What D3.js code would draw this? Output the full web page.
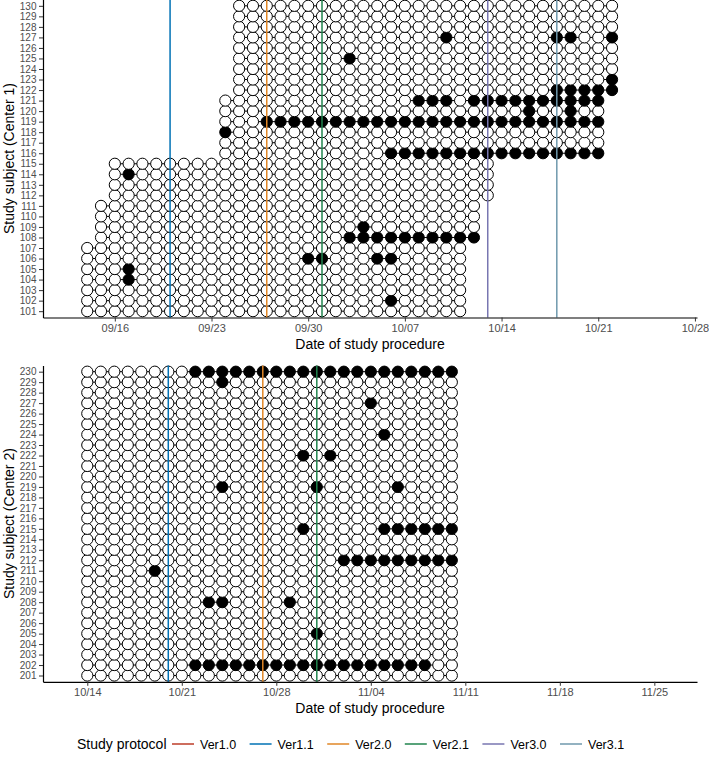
<!DOCTYPE html>
<html>
<head>
<meta charset="utf-8">
<script src="https://cdn.jsdelivr.net/npm/d3@7"></script>
<style>
	body { margin: 0; background: #fff; }
	text { font-family: "Liberation Sans", Arial, sans-serif; }
</style>
</head>
<body>
<div id="chart-area"></div>
<script>

	// protocol versions, colours as in the legend
	var protocols = ["Ver1.0", "Ver1.1", "Ver2.0", "Ver2.1", "Ver3.0", "Ver3.1"];
	var protocolColors = ["#BC3C29", "#0072B5", "#E18727", "#20854E", "#7876B1", "#6F99AD"];

	// date each version started at each center (null = not shown)
	var center1Protocol = [null, "09/20", "09/27", "10/01", "10/13", "10/18"];
	var center2Protocol = [null, "10/20", "10/27", "10/31", null, null];

	var center1Ticks = ["09/16", "09/23", "09/30", "10/07", "10/14", "10/21", "10/28"];
	var center2Ticks = ["10/14", "10/21", "10/28", "11/04", "11/11", "11/18", "11/25"];

	// center 1 : first and last procedure day per subject, filled dots
	var center1Subjects = ["101","102","103","104","105","106","107","108","109","110",
		"111","112","113","114","115","116","117","118","119","120",
		"121","122","123","124","125","126","127","128","129","130"];
	var center1First = ["09/14","09/14","09/14","09/14","09/14","09/14","09/14","09/15","09/15","09/15",
		"09/15","09/16","09/16","09/16","09/16","09/24","09/24","09/24","09/24","09/24",
		"09/24","09/25","09/25","09/25","09/25","09/25","09/25","09/25","09/25","09/25"];
	var center1Last = ["10/11","10/11","10/11","10/11","10/11","10/11","10/11","10/12","10/12","10/12",
		"10/12","10/13","10/13","10/13","10/13","10/21","10/21","10/21","10/21","10/21",
		"10/21","10/22","10/22","10/22","10/22","10/22","10/22","10/22","10/22","10/22"];
	var center1Filled = [
		[], ["10/06"], [], ["09/17"], ["09/17"], ["09/30", "10/01", "10/05", "10/06"], [],
		["10/03-10/12"], ["10/04"], [], [],
		[], [], ["09/17"], [],
		["10/06-10/21"], [], ["09/24"], ["09/27-10/21"], ["10/16", "10/19"], ["10/08-10/10", "10/12-10/21"],
		["10/18-10/22"], ["10/22"], [], ["10/03"], [], ["10/10", "10/18", "10/19", "10/22"], [], [], []
	];

	// center 2
	var center2Subjects = ["201","202","203","204","205","206","207","208","209","210",
		"211","212","213","214","215","216","217","218","219","220",
		"221","222","223","224","225","226","227","228","229","230"];
	var center2First = ["10/14","10/14","10/14","10/14","10/14","10/14","10/14","10/14","10/14","10/14",
		"10/14","10/14","10/14","10/14","10/14","10/14","10/14","10/14","10/14","10/14",
		"10/14","10/14","10/14","10/14","10/14","10/14","10/14","10/14","10/14","10/14"];
	var center2Last = ["11/10","11/10","11/10","11/10","11/10","11/10","11/10","11/10","11/10","11/10",
		"11/10","11/10","11/10","11/10","11/10","11/10","11/10","11/10","11/10","11/10",
		"11/10","11/10","11/10","11/10","11/10","11/10","11/10","11/10","11/10","11/10"];
	var center2Filled = [
		[], ["10/22-11/08"], [], [], ["10/31"], [], [], ["10/23", "10/24", "10/29"], [], [],
		["10/19"], ["11/02-11/10"], [], [], ["10/30", "11/05-11/10"], [], [], [], ["10/24", "10/31", "11/06"], [],
		[], ["10/30", "11/01"], [], ["11/05"], [], [], ["11/04"], [], ["10/24"], ["10/22-11/10"]
	];


	var parseDay = d3.utcParse("%Y/%m/%d");
	function day(s) { return parseDay("2019/" + s); }
	var DAY = 864e5;

	function filledTimes(list) {
		var out = new Set();
		list.forEach(function(s){
			var p = s.split("-");
			var a = day(p[0]), b = day(p[p.length - 1]);
			d3.utcDay.range(a, d3.utcDay.offset(b, 1)).forEach(function(d){ out.add(+d); });
		});
		return out;
	}

	var svg = d3.select("#chart-area").append("svg")
		.attr("width", 709)
		.attr("height", 758)
		.style("background", "#fff");

	function drawPanel(p) {
		var x = d3.scaleUtc()
			.domain([+day(p.ticks[0]) - p.padLeft * DAY, +day(p.ticks[p.ticks.length - 1]) + p.padRight * DAY])
			.range([43, 697]);

		var y = d3.scalePoint()
			.domain(p.subjects)
			.range([p.bottom, p.top])
			.padding(0.6);

		var rows = p.subjects.map(function(s, i){
			var f = filledTimes(p.filled[i]);
			var dates = d3.utcDay.range(day(p.first[i]), d3.utcDay.offset(day(p.last[i]), 1));
			return {
				subject: s,
				first: day(p.first[i]),
				last: day(p.last[i]),
				points: dates.map(function(d){ return { subject: s, date: d, filled: f.has(+d) }; })
			};
		});

		var g = svg.append("g");

		// connecting lines
		g.selectAll("line.row")
			.data(rows)
			.enter()
			.append("line")
			.attr("class", "row")
			.attr("x1", function(d){ return x(d.first); })
			.attr("x2", function(d){ return x(d.last); })
			.attr("y1", function(d){ return y(d.subject); })
			.attr("y2", function(d){ return y(d.subject); })
			.attr("stroke", "#000")
			.attr("stroke-width", 1);

		// dots
		g.selectAll("circle")
			.data(d3.merge(rows.map(function(r){ return r.points; })))
			.enter()
			.append("circle")
			.attr("cx", function(d){ return x(d.date); })
			.attr("cy", function(d){ return y(d.subject); })
			.attr("r", 5.6)
			.attr("fill", function(d){ return d.filled ? "#000" : "#fff"; })
			.attr("stroke", "#000")
			.attr("stroke-width", 1);

		// protocol lines
		var vl = p.protocol.map(function(d, i){ return { date: d, color: protocolColors[i] }; })
			.filter(function(d){ return d.date; });

		g.selectAll("line.proto")
			.data(vl)
			.enter()
			.append("line")
			.attr("class", "proto")
			.attr("x1", function(d){ return x(day(d.date)); })
			.attr("x2", function(d){ return x(day(d.date)); })
			.attr("y1", p.top)
			.attr("y2", p.bottom)
			.attr("stroke", function(d){ return d.color; })
			.attr("stroke-width", 1.5);

		// axes
		var xAxis = svg.append("g")
			.attr("transform", "translate(0," + p.bottom + ")")
			.call(d3.axisBottom(x)
				.tickValues(p.ticks.map(day))
				.tickFormat(d3.utcFormat("%m/%d"))
				.tickSize(4)
				.tickSizeOuter(0)
				.tickPadding(2.5));

		var yAxis = svg.append("g")
			.attr("transform", "translate(43,0)")
			.call(d3.axisLeft(y)
				.tickSize(4)
				.tickSizeOuter(0)
				.tickPadding(2.5));

		[xAxis, yAxis].forEach(function(a){
			a.select(".domain").attr("stroke", "#000").attr("stroke-width", 1.2);
			a.selectAll(".tick line").attr("stroke", "#333").attr("stroke-width", 1);
			a.selectAll(".tick text").attr("fill", "#4D4D4D")
				.style("font-family", "'Liberation Sans', Arial, sans-serif");
		});
		xAxis.selectAll(".tick text").style("font-size", "11px");
		yAxis.selectAll(".tick text").style("font-size", "10px");

		svg.append("text")
			.attr("x", 370)
			.attr("y", p.bottom + 31.5)
			.attr("text-anchor", "middle")
			.attr("font-size", 14)
			.attr("fill", "#000")
			.text("Date of study procedure");

		svg.append("text")
			.attr("transform", "translate(13.5," + ((p.top + p.bottom) / 2) + ") rotate(-90)")
			.attr("text-anchor", "middle")
			.attr("font-size", 14)
			.attr("fill", "#000")
			.text(p.title);
	}

	drawPanel({
		subjects: center1Subjects, first: center1First, last: center1Last, filled: center1Filled,
		protocol: center1Protocol, ticks: center1Ticks,
		padLeft: 5.2, padRight: 0.15,
		top: -0.5, bottom: 317.5,
		title: "Study subject (Center 1)"
	});

	drawPanel({
		subjects: center2Subjects, first: center2First, last: center2Last, filled: center2Filled,
		protocol: center2Protocol, ticks: center2Ticks,
		padLeft: 3.28, padRight: 3.16,
		top: 365.4, bottom: 681.8,
		title: "Study subject (Center 2)"
	});

	// legend
	var legend = svg.append("g").attr("transform", "translate(0,744)");

	legend.append("text")
		.attr("x", 77)
		.attr("y", 5)
		.attr("font-size", 14)
		.attr("fill", "#000")
		.text("Study protocol");

	var items = legend.selectAll("g.item")
		.data(protocols)
		.enter()
		.append("g")
		.attr("class", "item")
		.attr("transform", function(d, i){ return "translate(" + (172 + i * 77.6) + ",0)"; });

	items.append("line")
		.attr("x1", 0)
		.attr("x2", 22)
		.attr("stroke", function(d, i){ return protocolColors[i]; })
		.attr("stroke-width", 1.5);

	items.append("text")
		.attr("x", 28)
		.attr("y", 4.5)
		.attr("font-size", 12.5)
		.attr("fill", "#000")
		.text(function(d){ return d; });

</script>
</body>
</html>
